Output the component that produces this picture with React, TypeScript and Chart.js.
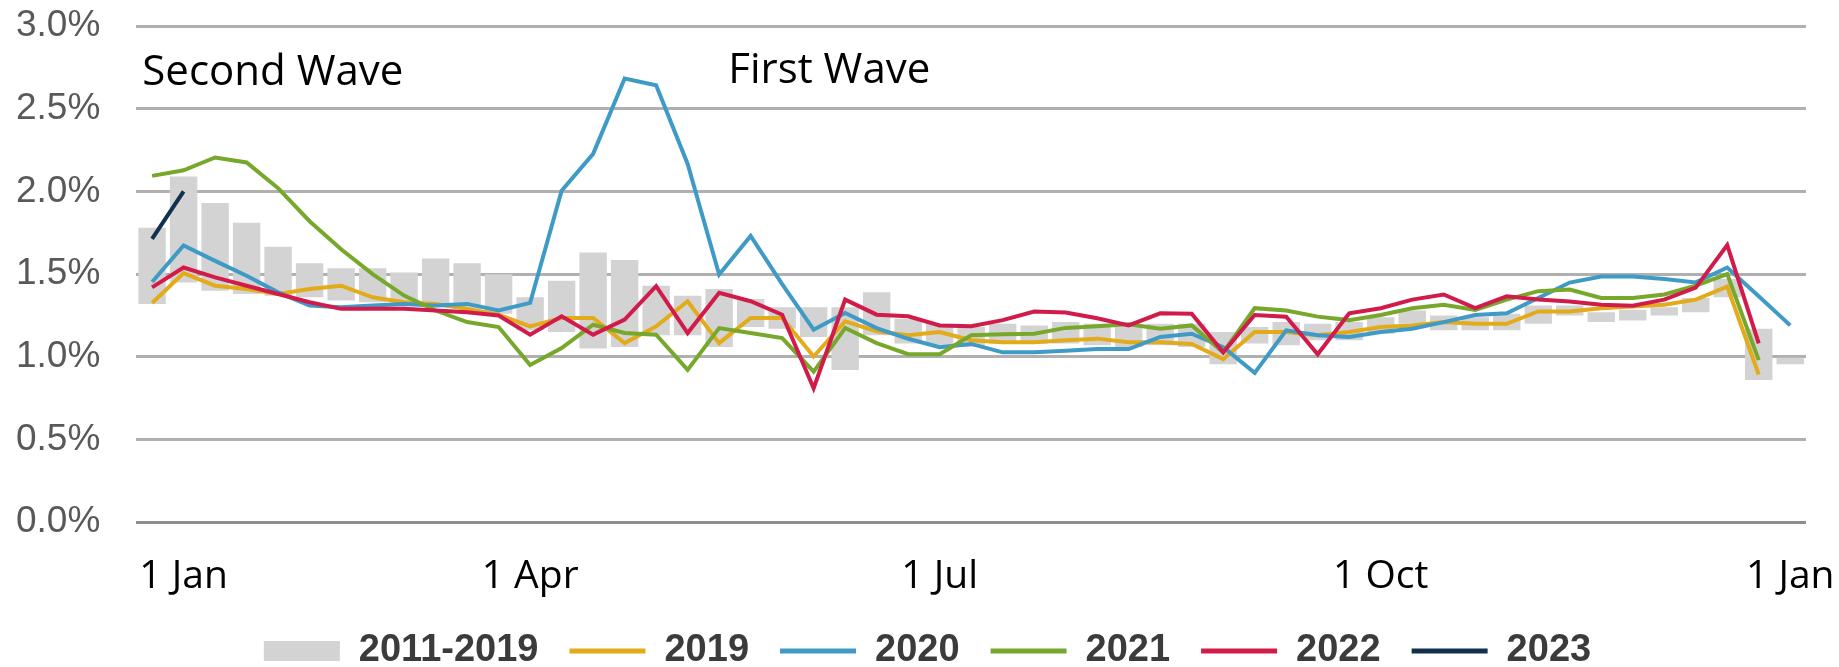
import React, { useEffect, useRef } from 'react';
import { Chart, registerables } from 'chart.js';

Chart.register(...registerables);

// ---- data -------------------------------------------------------------
const weeks = Array.from({ length: 53 }, (_, i) => `Week ${i + 1}`);

const tickWeeks = [2, 13, 26, 40, 53];
const tickLabels = ['1 Jan', '1 Apr', '1 Jul', '1 Oct', '1 Jan'];

const range2011to2019Low = [
  1.32, 1.45, 1.4, 1.38, 1.37, 1.36, 1.34, 1.33, 1.32, 1.3, 1.29, 1.26, 1.16, 1.15, 1.05, 1.06, 1.13, 1.13,
  1.06, 1.18, 1.17, 1.12, 0.92, 1.13, 1.08, 1.07, 1.06, 1.08, 1.08, 1.08, 1.07, 1.06, 1.07, 1.06, 0.955, 1.08,
  1.07, 1.1, 1.1, 1.14, 1.2, 1.16, 1.16, 1.16, 1.2, 1.25, 1.21, 1.22, 1.25, 1.27, 1.36, 0.86, 0.955,
];
const range2011to2019High = [
  1.78, 2.09, 1.93, 1.81, 1.665, 1.565, 1.535, 1.535, 1.51, 1.595, 1.565, 1.5, 1.36, 1.46, 1.63, 1.585, 1.43,
  1.37, 1.41, 1.35, 1.3, 1.3, 1.3, 1.39, 1.23, 1.2, 1.18, 1.2, 1.19, 1.21, 1.2, 1.18, 1.2, 1.2, 1.15, 1.18, 1.21,
  1.2, 1.21, 1.24, 1.28, 1.25, 1.24, 1.26, 1.31, 1.31, 1.27, 1.285, 1.3, 1.356, 1.47, 1.17, 0.995,
];

const values2019 = [
  1.325, 1.506, 1.43, 1.41, 1.38, 1.41, 1.43, 1.36, 1.33, 1.32, 1.29, 1.255, 1.184, 1.235, 1.235, 1.083, 1.184,
  1.336, 1.083, 1.235, 1.235, 1.002, 1.215, 1.154, 1.13, 1.15, 1.1, 1.088, 1.088, 1.1, 1.11, 1.088, 1.088, 1.078,
  0.986, 1.15, 1.15, 1.13, 1.15, 1.18, 1.19, 1.21, 1.2, 1.2, 1.274, 1.274, 1.294, 1.305, 1.315, 1.346, 1.424, 0.893,
];
const values2020 = [
  1.452, 1.673, 1.58, 1.49, 1.39, 1.31, 1.3, 1.31, 1.32, 1.31, 1.32, 1.28, 1.326, 2.004, 2.227, 2.682, 2.642,
  2.166, 1.498, 1.731, 1.44, 1.164, 1.265, 1.174, 1.109, 1.058, 1.078, 1.027, 1.027, 1.037, 1.047, 1.047, 1.12,
  1.14, 1.058, 0.903, 1.16, 1.13, 1.12, 1.15, 1.17, 1.21, 1.253, 1.263, 1.356, 1.449, 1.486, 1.486, 1.47, 1.45,
  1.54, 1.366, 1.19,
];
const values2021 = [
  2.094, 2.128, 2.205, 2.175, 2.02, 1.82, 1.65, 1.5, 1.37, 1.28, 1.21, 1.18, 0.951, 1.053, 1.194, 1.144, 1.134,
  0.921, 1.174, 1.144, 1.113, 0.911, 1.174, 1.083, 1.016, 1.016, 1.13, 1.136, 1.14, 1.175, 1.185, 1.197, 1.17,
  1.19, 1.027, 1.294, 1.28, 1.243, 1.222, 1.253, 1.294, 1.315, 1.284, 1.346, 1.397, 1.407, 1.356, 1.356, 1.377,
  1.43, 1.5, 0.98,
];
const values2022 = [
  1.42, 1.54, 1.48, 1.43, 1.38, 1.33, 1.29, 1.29, 1.29, 1.28, 1.27, 1.25, 1.134, 1.245, 1.134, 1.225, 1.427,
  1.144, 1.387, 1.336, 1.255, 0.81, 1.346, 1.255, 1.245, 1.19, 1.185, 1.222, 1.274, 1.268, 1.233, 1.19, 1.263,
  1.26, 1.027, 1.253, 1.243, 1.016, 1.263, 1.294, 1.346, 1.377, 1.294, 1.366, 1.346, 1.335, 1.315, 1.309, 1.346,
  1.418, 1.675, 1.082,
];
const values2023 = [1.713, 2.0];

const waveNotes = [
  { text: 'Second Wave', atIndex: -0.31, value: 2.645 },
  { text: 'First Wave', atIndex: 18.29, value: 2.656 },
];

// ---- styling ----------------------------------------------------------
const BAR_GREY = '#d3d3d3';
const C2019 = '#e3aa1a';
const C2020 = '#3f9bc6';
const C2021 = '#77a82b';
const C2022 = '#d11b4a';
const C2023 = '#14304f';

const waveLabelPlugin = {
  id: 'waveLabels',
  afterDraw(chart: any) {
    const { ctx, scales } = chart;
    const xs = scales.x;
    const ys = scales.y;
    ctx.save();
    ctx.font = '42px "Open Sans"';
    ctx.fillStyle = '#000000';
    ctx.textAlign = 'left';
    ctx.textBaseline = 'alphabetic';
    for (const n of waveNotes) {
      ctx.fillText(n.text, xs.getPixelForValue(n.atIndex), ys.getPixelForValue(n.value));
    }
    ctx.restore();
  },
};

export default function App() {
  const canvasRef = useRef<HTMLCanvasElement | null>(null);

  useEffect(() => {
    const canvas = canvasRef.current;
    if (!canvas) return;

    const lineDs = (label: string, data: number[], color: string, order: number) => ({
      type: 'line' as const,
      label,
      data,
      borderColor: color,
      backgroundColor: color,
      borderWidth: 4,
      pointRadius: 0,
      pointHoverRadius: 0,
      tension: 0,
      fill: false,
      order,
    });

    const chart = new Chart(canvas, {
      type: 'bar',
      data: {
        labels: weeks,
        datasets: [
          {
            type: 'bar' as const,
            label: '2011-2019',
            data: range2011to2019Low.map((lo, i) => [lo, range2011to2019High[i]]) as any,
            backgroundColor: BAR_GREY,
            borderWidth: 0,
            categoryPercentage: 1,
            barPercentage: 0.87,
            order: 10,
          },
          lineDs('2019', values2019, C2019, 5),
          lineDs('2020', values2020, C2020, 4),
          lineDs('2021', values2021, C2021, 3),
          lineDs('2022', values2022, C2022, 2),
          lineDs('2023', values2023, C2023, 1),
        ] as any,
      },
      options: {
        animation: false,
        responsive: false,
        maintainAspectRatio: false,
        layout: { padding: { left: 16, right: 0, top: 26, bottom: 0 } },
        scales: {
          x: {
            type: 'category',
            offset: true,
            grid: { display: false, drawTicks: true, tickLength: 30 },
            border: { display: false },
            ticks: {
              autoSkip: false,
              maxRotation: 0,
              minRotation: 0,
              padding: 0,
              color: '#000000',
              font: { family: 'Open Sans', size: 39, lineHeight: 1.25 },
              callback: (_v: any, index: number) => {
                const k = tickWeeks.indexOf(index + 1);
                return k >= 0 ? tickLabels[k] : '';
              },
            },
          },
          y: {
            min: 0,
            max: 3,
            grid: {
              drawTicks: true,
              tickLength: 36,
              tickColor: 'rgba(0,0,0,0)',
              lineWidth: 3,
              color: (c: any) => (c.tick && c.tick.value === 0 ? '#8e8e8e' : '#b0b0b0'),
            },
            border: { display: false },
            ticks: {
              stepSize: 0.5,
              padding: 0,
              color: '#595959',
              font: { family: 'Liberation Sans', size: 37 },
              callback: (v: any) => `${Number(v).toFixed(1)}%`,
            },
          },
          // empty right-hand margin column
          yMargin: {
            position: 'right',
            display: true,
            grid: { display: false, drawTicks: false },
            border: { display: false },
            ticks: { display: false },
            afterFit: (s: any) => {
              s.width = 33;
            },
          },
        },
        plugins: {
          tooltip: { enabled: false },
          legend: {
            position: 'bottom',
            fullSize: true,
            maxHeight: 66,
            labels: {
              usePointStyle: true,
              pointStyleWidth: 76,
              boxHeight: 20,
              padding: 31,
              color: '#3b3b3b',
              font: { family: 'Liberation Sans', size: 38, weight: 'bold' },
              generateLabels: (ch: any) =>
                ch.data.datasets.map((ds: any, i: number) => {
                  const isBar = ds.type === 'bar';
                  return {
                    text: ds.label,
                    datasetIndex: i,
                    fillStyle: isBar ? BAR_GREY : ds.borderColor,
                    strokeStyle: isBar ? BAR_GREY : ds.borderColor,
                    lineWidth: isBar ? 0 : 5,
                    pointStyle: isBar ? 'rect' : 'line',
                    hidden: false,
                    fontColor: '#3b3b3b',
                  };
                }),
            },
          },
        },
      } as any,
      plugins: [waveLabelPlugin],
    });

    return () => chart.destroy();
  }, []);

  return (
    <div style={{ position: 'absolute', left: 0, top: 0, width: 1839, height: 667, background: '#ffffff' }}>
      <canvas ref={canvasRef} width={1839} height={667} style={{ display: 'block' }} />
    </div>
  );
}
